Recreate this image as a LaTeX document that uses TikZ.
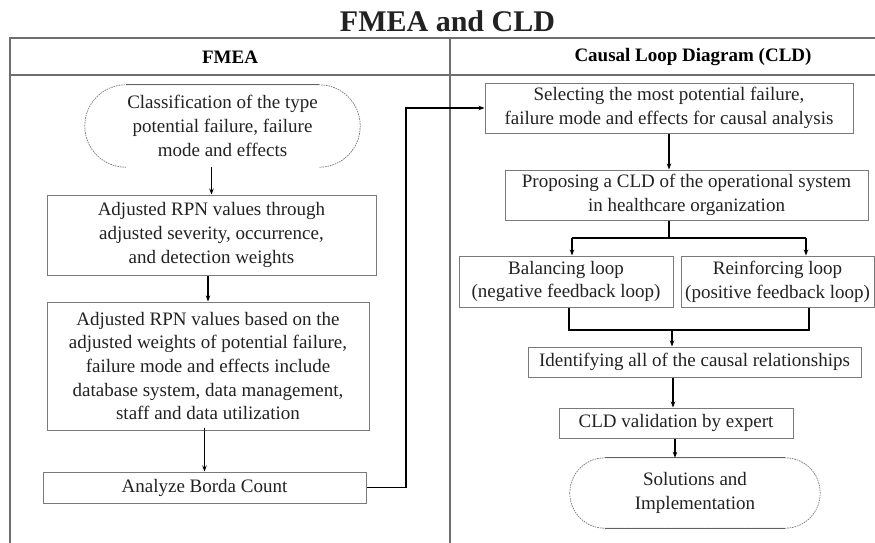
\documentclass[tikz,border=0pt]{standalone}
\usepackage{fontspec}
\setmainfont{Liberation Serif}
\usetikzlibrary{arrows.meta,calc}
\definecolor{inkc}{HTML}{222222}
\definecolor{gridc}{HTML}{6E6E6E}
\definecolor{boxc}{HTML}{7A7A7A}
\tikzset{
  boxtext/.style={draw=boxc,line width=1pt,text=inkc,align=center,inner sep=0pt,
    font=\fontsize{19}{23.7}\selectfont},
  termtext/.style={draw=none,text=inkc,align=center,inner sep=0pt,
    font=\fontsize{19}{23.7}\selectfont},
  termarc/.style={draw=boxc,line width=0.7pt,dash pattern=on 1.6pt off 0.9pt},
  termedge/.style={draw=boxc!80!black,line width=1.1pt},
  gridline/.style={draw=gridc,line width=1.2pt},
  link/.style={draw=black,line width=1.5pt},
  arr/.style={link,-{Stealth[length=6pt,width=4.5pt]}},
  headtext/.style={text=black,font=\bfseries\fontsize{19}{23}\selectfont},
}
\begin{document}
\begin{tikzpicture}[x=1pt,y=-1pt]
\useasboundingbox (0,0) rectangle (875,543);
\fill[white] (0,0) rectangle (875,543);

% title and table frame
\node[text=inkc,font=\bfseries\fontsize{30}{34}\selectfont] (title) at (447.5,21) {FMEA and CLD};
\draw[gridline] (10,543) -- (10,38) -- (880,38);
\draw[gridline] (10,75) -- (880,75);
\draw[gridline] (450,38) -- (450,543);
\node[headtext] (hfmea) at (230,57) {FMEA};
\node[headtext] (hcld) at (693,57) {Causal Loop Diagram (CLD)};

% FMEA column
\node[termtext,minimum width=275pt,minimum height=82pt] (s1) at (222.5,126)
  {Classification of the type\\potential failure, failure\\mode and effects};
\draw[termarc,rounded corners=41pt] (s1.south west) rectangle (s1.north east);
\draw[termedge] ([xshift=41pt]s1.north west) -- ([xshift=-41pt]s1.north east);
\fill[white] ([xshift=41pt,yshift=1.5pt]s1.south west) rectangle ([xshift=-41pt,yshift=-1.5pt]s1.south east);

\node[boxtext,minimum width=329pt,minimum height=80pt] (b2) at (211.5,235)
  {Adjusted RPN values through\\adjusted severity, occurrence,\\and detection weights};
\node[boxtext,minimum width=322pt,minimum height=128pt] (b3) at (208,366)
  {Adjusted RPN values based on the\\adjusted weights of potential failure,\\failure mode and effects include\\database system, data management,\\staff and data utilization};
\node[boxtext,minimum width=323pt,minimum height=31pt] (b4) at (204.5,487.5)
  {Analyze Borda Count};

\draw[arr] (b2.north |- s1.south) -- (b2.north);
\draw[arr] (b3.north |- b2.south) -- (b3.north);
\draw[arr] ([yshift=3pt]b4.north |- b3.south) -- (b4.north);

% CLD column
\node[boxtext,minimum width=368pt,minimum height=50pt] (c1) at (669,108)
  {Selecting the most potential failure,\\failure mode and effects for causal analysis};
\node[boxtext,minimum width=363pt,minimum height=50pt] (c2) at (686.5,195)
  {Proposing a CLD of the operational system\\in healthcare organization};
\node[boxtext,minimum width=214pt,minimum height=51pt] (bal) at (566,281.5)
  {Balancing loop\\(negative feedback loop)};
\node[boxtext,minimum width=193pt,minimum height=51pt] (rein) at (777.5,281.5)
  {Reinforcing loop\\(positive feedback loop)};
\node[boxtext,minimum width=333pt,minimum height=30pt] (ident) at (694.5,362)
  {Identifying all of the causal relationships};
\node[boxtext,minimum width=234pt,minimum height=30pt] (valid) at (676,423)
  {CLD validation by expert};
\node[termtext,minimum width=250pt,minimum height=70pt] (s2) at (695,493)
  {Solutions and\\Implementation};
\draw[termarc,rounded corners=35pt] (s2.south west) rectangle (s2.north east);
\draw[termedge] ([xshift=35pt]s2.north west) -- ([xshift=-35pt]s2.north east);
\draw[termedge] ([xshift=35pt]s2.south west) -- ([xshift=-35pt]s2.south east);

% hand-over from FMEA to CLD
\coordinate (turn) at (406,0);
\draw[arr] (b4.east) -- (b4.east -| turn) |- (c1.west);

\draw[arr] (c1.south) -- (c1.south |- c2.north);

% split into the two loops
\coordinate (split) at (669,238);
\coordinate (sl) at (572,238);
\coordinate (sr) at (806,238);
\draw[link] (c2.south -| split) -- (split);
\draw[link] (sl) -- (sr);
\draw[arr] (sl) -- (sl |- bal.north);
\draw[arr] (sr) -- (sr |- rein.north);

% merge of the two loops
\coordinate (ml) at (569,330);
\coordinate (mr) at (809,330);
\coordinate (mm) at (672,330);
\draw[link] (ml |- bal.south) -- (ml) -- (mr) -- (mr |- rein.south);
\draw[arr] (mm) -- (mm |- ident.north);

\coordinate (iv) at (673,0);
\draw[arr] (ident.south -| iv) -- (valid.north -| iv);
\coordinate (vs) at (675,0);
\draw[arr] (valid.south -| vs) -- (s2.north -| vs);
\end{tikzpicture}
\end{document}
